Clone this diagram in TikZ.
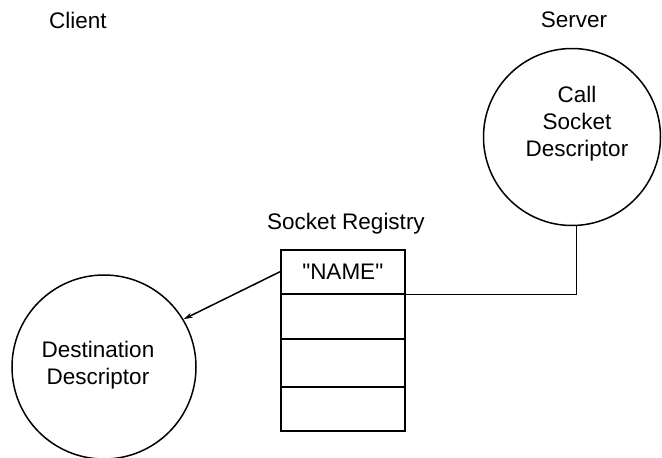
\documentclass[tikz,border=0pt]{standalone}
\usepackage{fontspec}
\setmainfont{Liberation Sans}[Ligatures=TeXOff]
\usetikzlibrary{arrows.meta}
\tikzset{
  lbl/.style={font=\fontsize{22.5}{27}\selectfont, inner sep=0pt},
  desc/.style={circle, draw, line width=1.5pt, inner sep=0pt, align=center,
               font=\fontsize{22.5}{27}\selectfont},
  cell/.style={draw, line width=1.5pt, minimum width=124pt, inner sep=0pt,
               anchor=north west, font=\fontsize{22.5}{27}\selectfont},
  link/.style={line width=1.5pt},
}
\begin{document}
\begin{tikzpicture}[x=1pt, y=-1pt]
  \useasboundingbox (0,0) rectangle (662,458);

  % column headings
  \node[lbl] (client) at (78,20) {Client};
  \node[lbl] (server) at (574,20) {Server};

  % descriptors
  \node[desc, minimum size=177pt] (srv) at (572,137) {};
  \node[lbl, align=center] (srvtxt) at (577,124) {Call\\Socket\\Descriptor};

  \node[desc, minimum size=184pt] (dest) at (104,367) {};
  \node[lbl, align=center] (desttxt) at (98,365) {Destination\\Descriptor};

  % socket registry table
  \node[lbl] (reglbl) at (346,224) {Socket Registry};
  \node[cell, minimum height=44pt] (r1) at (280,249) {"NAME"};
  \node[cell, minimum height=45pt] (r2) at (280,293) {};
  \node[cell, minimum height=48pt] (r3) at (280,338) {};
  \node[cell, minimum height=44pt] (r4) at (280,386) {};

  % connectors
  \draw[link, -{Stealth[length=9pt, width=5pt]}] (r1.west) -- (dest.31);
  \draw[link] (r1.south east) -| (srv.-87.4);
\end{tikzpicture}
\end{document}
